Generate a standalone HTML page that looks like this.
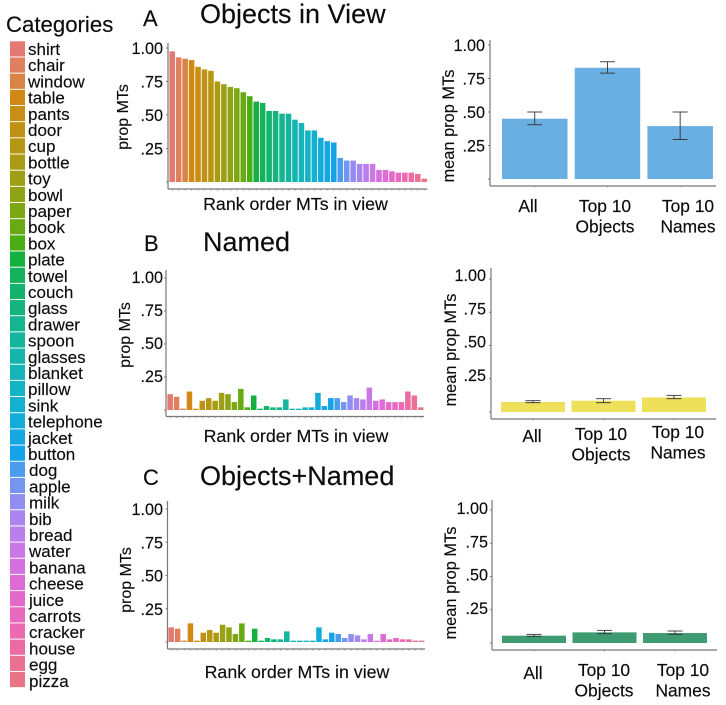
<!DOCTYPE html>
<html>
<head>
<meta charset="utf-8">
<style>
html,body{margin:0;padding:0;background:#fff;width:726px;height:705px;overflow:hidden}
svg{display:block;font-family:"Liberation Sans",Arial,sans-serif;fill:#0c0c0c}
text{stroke:#0c0c0c;stroke-width:.15px}
</style>
</head>
<body>
<svg id="fig" width="726" height="705" viewBox="0 0 726 705" xmlns="http://www.w3.org/2000/svg">
  <text x="6" y="32" font-size="22.2">Categories</text>
  <text x="143" y="26" font-size="22">A</text>
  <text x="200" y="23" font-size="27">Objects in View</text>
  <text x="144" y="251" font-size="22">B</text>
  <text x="203" y="251" font-size="27">Named</text>
  <text x="143" y="485" font-size="22">C</text>
  <text x="200" y="485" font-size="27">Objects+Named</text>
</svg>
<script>
const categories = ["shirt","chair","window","table","pants","door","cup","bottle","toy","bowl","paper","book","box","plate","towel","couch","glass","drawer","spoon","glasses","blanket","pillow","sink","telephone","jacket","button","dog","apple","milk","bib","bread","water","banana","cheese","juice","carrots","cracker","house","egg","pizza"];
const objectsValues = [.975,.93,.92,.91,.86,.84,.83,.75,.73,.71,.70,.67,.64,.60,.59,.53,.53,.51,.51,.465,.44,.385,.385,.33,.305,.295,.18,.16,.16,.135,.135,.135,.09,.09,.08,.07,.07,.07,.06,.025];
const namedValues = [.12,.10,.01,.14,.01,.07,.09,.07,.13,.12,.06,.16,.02,.11,.01,.03,.02,.02,.08,.01,.01,.02,.02,.13,.03,.09,.09,.06,.11,.09,.08,.17,.07,.08,.06,.06,.06,.14,.11,.02];
const bothValues = [.11,.10,.01,.14,.01,.07,.09,.07,.13,.11,.06,.14,.01,.10,.01,.03,.02,.02,.08,.01,.01,.01,.01,.11,.02,.07,.06,.03,.06,.05,.02,.06,.01,.06,.02,.03,.02,.02,.01,.01];
const yTickValues = [1, .75, .5, .25];
const yTickLabels = ["1.00", ".75", ".50", ".25"];
const groupNames = ["All", "Top 10 Objects", "Top 10 Names"];
const objectsMeans = [.45, .83, .395];
const objectsLow = [.405, .79, .295];
const objectsHigh = [.50, .875, .50];
const namedMeans = [.075, .085, .11];
const namedLow = [.07, .07, .10];
const namedHigh = [.085, .10, .125];
const bothMeans = [.055, .08, .075];
const bothLow = [.05, .07, .065];
const bothHigh = [.065, .095, .09];

const NS = "http://www.w3.org/2000/svg";
const fig = document.getElementById("fig");

function el(tag, attrs, name) {
  const e = document.createElementNS(NS, tag);
  for (const k in attrs) e.setAttribute(k, attrs[k]);
  
  
  fig.appendChild(e);
  return e;
}
function txt(content, attrs, name) {
  const e = el("text", attrs, name);
  e.textContent = content;
  return e;
}
function hcl(h, c, l) {
  const hr = h * Math.PI / 180, u = c * Math.cos(hr), v = c * Math.sin(hr);
  const Y = l > 8 ? Math.pow((l + 16) / 116, 3) : l / 903.3;
  const un = 0.19784, vn = 0.46834;
  const up = u / (13 * l) + un, vp = v / (13 * l) + vn;
  const X = Y * 9 * up / (4 * vp), Z = Y * (12 - 3 * up - 20 * vp) / (4 * vp);
  const lin = [3.2406*X-1.5372*Y-0.4986*Z, -0.9689*X+1.8758*Y+0.0415*Z, 0.0557*X-0.2040*Y+1.0570*Z];
  const g = lin.map(a => { a = Math.max(0, Math.min(1, a));
    return Math.round(255 * (a <= 0.0031308 ? 12.92 * a : 1.055 * Math.pow(a, 1/2.4) - 0.055)); });
  return "rgb(" + g.join(",") + ")";
}
function hueColor(i) { return hcl(15 + 360 * i / categories.length, 88, 60); }

/* legend */
categories.forEach(function (c, i) {
  el("rect", {x: 10, y: 41.3 + i * 16.17, width: 15, height: 15.2, fill: hueColor(i), opacity: .92}, "legend-swatch-" + c);
  txt(c, {x: i > 25 ? 29 : 28, y: 55 + i * 16.2, "font-size": 17}, "legend-label-" + c);
});

function yAxis(p, prefix) {
  const y = v => p.base - v * p.scale;
  el("line", {x1: p.axisX, x2: p.axisX, y1: p.axisTop, y2: p.axisBottom, stroke: "#777", "stroke-width": 1.2}, prefix + "-y-axis");
  el("line", {x1: p.axisX, x2: p.axisRight, y1: p.axisBottom, y2: p.axisBottom, stroke: "#777", "stroke-width": 1.2}, prefix + "-x-axis");
  yTickValues.forEach(function (v, i) {
    el("line", {x1: p.axisX - 2, x2: p.axisX, y1: y(v), y2: y(v), stroke: "#777", "stroke-width": 1}, prefix + "-y-tick");
    txt(yTickLabels[i], {x: p.labelEnd, y: y(v) + p.labelDy + 6, "font-size": 16.2, "text-anchor": "end"}, prefix + "-y-tick-label");
  });
  el("line", {x1: p.axisX - 2, x2: p.axisX, y1: p.base, y2: p.base, stroke: "#777", "stroke-width": 1}, prefix + "-y-tick-zero");
  txt(p.yTitle, {transform: "translate(" + p.titleX + "," + p.titleY + ") rotate(-90)", "font-size": p.titleSize, "text-anchor": "middle"}, prefix + "-y-title");
  return y;
}

function rankChart(values, p, prefix) {
  const y = yAxis(p, prefix);
  const step = (p.x1 - p.x0) / values.length;
  values.forEach(function (v, i) {
    const top = y(v);
    el("rect", {x: p.x0 + i * step + .4, y: top, width: step - .9, height: p.base - top, fill: hueColor(i), opacity: .92}, prefix + "-bar-" + categories[i]);
    el("line", {x1: p.x0 + (i + .5) * step, x2: p.x0 + (i + .5) * step, y1: p.axisBottom, y2: p.axisBottom + 1.6, stroke: "#888", "stroke-width": .8}, prefix + "-x-tick");
  });
  txt("Rank order MTs in view", {x: p.xTitleX, y: p.xTitleY, "font-size": 17.8, "text-anchor": "middle"}, prefix + "-x-title");
}

function meanChart(means, low, high, p, prefix) {
  const y = yAxis(p, prefix);
  means.forEach(function (v, i) {
    const x = p.barX + i * p.barStep, top = y(v), cx = x + p.barW / 2;
    el("rect", {x: x, y: top, width: p.barW, height: p.base - top, fill: p.color}, prefix + "-bar-" + (i + 1));
    el("line", {x1: cx, x2: cx, y1: y(low[i]), y2: y(high[i]), stroke: "#333", "stroke-width": .9}, prefix + "-error-stem");
    el("line", {x1: cx - 7.5, x2: cx + 7.5, y1: y(low[i]), y2: y(low[i]), stroke: "#333", "stroke-width": .9}, prefix + "-error-cap-low");
    el("line", {x1: cx - 7.5, x2: cx + 7.5, y1: y(high[i]), y2: y(high[i]), stroke: "#333", "stroke-width": .9}, prefix + "-error-cap-high");
    el("line", {x1: cx, x2: cx, y1: p.axisBottom, y2: p.axisBottom + 1.5, stroke: "#888", "stroke-width": .8}, prefix + "-x-tick");
    const parts = groupNames[i] === "All" ? ["All"] :
      [groupNames[i].slice(0, 6), groupNames[i].slice(7)];
    parts.forEach(function (t, j) {
      txt(t, {x: p.labelX[i], y: p.labelY[i] + j * 20.5, "font-size": 17.4, "text-anchor": "middle"}, prefix + "-x-label");
    });
  });
}

rankChart(objectsValues, {base: 182, scale: 134, axisX: 168, axisTop: 43, axisBottom: 189, axisRight: 427.5, labelEnd: 163, labelDy: 0, yTitle: "prop MTs", titleX: 128, titleY: 117, titleSize: 16, x0: 169, x1: 427.5, xTitleX: 295.5, xTitleY: 210}, "objects-rank");
rankChart(namedValues, {base: 410, scale: 132, axisX: 166, axisTop: 270, axisBottom: 416.5, axisRight: 424, labelEnd: 163, labelDy: -1, yTitle: "prop MTs", titleX: 130, titleY: 335, titleSize: 16, x0: 167, x1: 424, xTitleX: 296, xTitleY: 442}, "named-rank");
rankChart(bothValues, {base: 642, scale: 133, axisX: 167.5, axisTop: 501, axisBottom: 649, axisRight: 425, labelEnd: 163, labelDy: 0, yTitle: "prop MTs", titleX: 131, titleY: 580, titleSize: 16, x0: 168, x1: 425, xTitleX: 297, xTitleY: 678}, "both-rank");

meanChart(objectsMeans, objectsLow, objectsHigh, {base: 179, scale: 134, axisX: 490, axisTop: 40, axisBottom: 186, axisRight: 716, labelEnd: 485, labelDy: 0, yTitle: "mean prop MTs", titleX: 454, titleY: 126, titleSize: 16.4, barX: 502, barW: 65.5, barStep: 72.7, color: "#69afe2", labelX: [528, 605, 688], labelY: [212, 212, 212]}, "objects-mean");
meanChart(namedMeans, namedLow, namedHigh, {base: 412, scale: 133, axisX: 491, axisTop: 268, axisBottom: 419, axisRight: 716, labelEnd: 486, labelDy: -4, yTitle: "mean prop MTs", titleX: 456, titleY: 350, titleSize: 16.4, barX: 501, barW: 64, barStep: 70.5, color: "#eee05a", labelX: [532, 601, 678], labelY: [442, 440, 438]}, "named-mean");
meanChart(bothMeans, bothLow, bothHigh, {base: 643, scale: 133, axisX: 492, axisTop: 500, axisBottom: 650, axisRight: 717, labelEnd: 488, labelDy: -2, yTitle: "mean prop MTs", titleX: 456, titleY: 583, titleSize: 16.4, barX: 502, barW: 64, barStep: 70.5, color: "#3f9b72", labelX: [533, 604, 683], labelY: [679, 676, 676]}, "both-mean");
</script>
</body>
</html>
